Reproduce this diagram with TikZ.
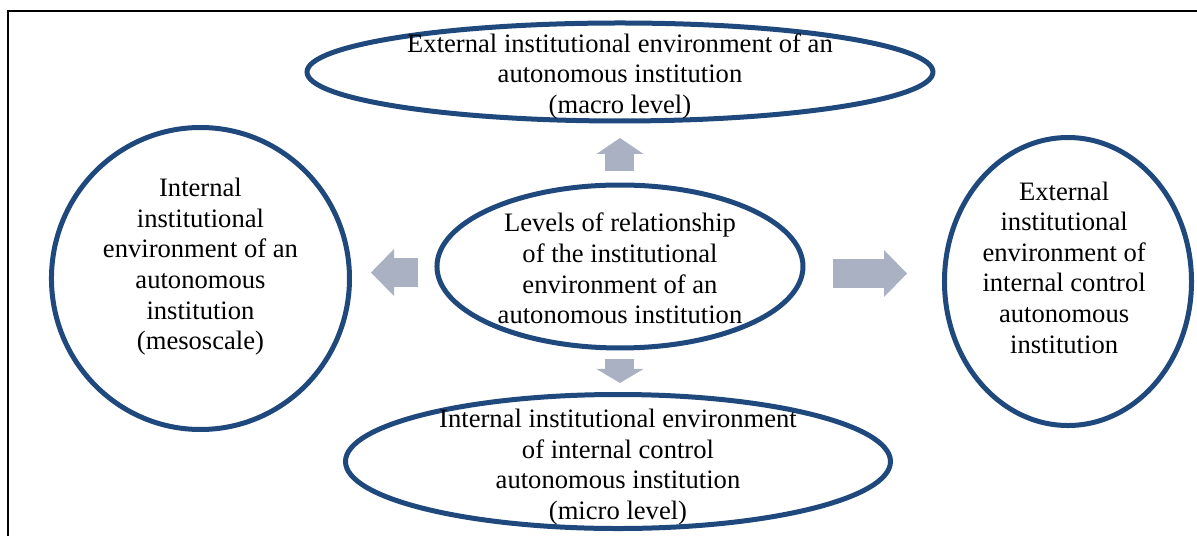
\documentclass[tikz,border=0pt]{standalone}
\usepackage{fontspec}
\setmainfont{Liberation Serif}
\usetikzlibrary{shapes.geometric,arrows.meta}
\definecolor{ringblue}{HTML}{1F497D}
\definecolor{arrowgrey}{RGB}{169,177,194}
\newcommand{\lvlsiz}{\fontsize{13.3}{15.3}\selectfont}
\tikzset{
    ring/.style={ellipse, draw=ringblue, line width=2.5pt, inner sep=0pt},
    lvltext/.style={align=center, font=\lvlsiz, inner sep=0pt},
    blockarrow/.style={draw=arrowgrey, line width=14.5pt,
        -{Triangle[length=#1, width=23.5pt, line width=0pt]}},
}

\begin{document}
\begin{tikzpicture}
    \useasboundingbox (0,0) rectangle (21.035,9.419);

    % frame of the figure
    \draw[line width=1pt] (0.141,0) -- (0.141,9.226) -- (21.035,9.226);

    % levels
    \node[ring, minimum width=11.0cm, minimum height=1.722cm] (macro) at (10.895,8.154) {};
    \node[lvltext] (macro-txt) at (10.895,8.08) {External institutional environment of an\\ autonomous institution\\ (macro level)};

    \node[ring, minimum width=6.432cm, minimum height=2.864cm] (mid) at (10.895,4.736) {};
    \node[lvltext] (mid-txt) at (10.895,4.70) {Levels of relationship\\ of the institutional\\ environment of an\\ autonomous institution};

    \node[ring, minimum width=5.237cm, minimum height=5.307cm] (meso) at (3.523,4.525) {};
    \node[lvltext] (meso-txt) at (3.523,4.73) {Internal\\ institutional\\ environment of an\\ autonomous\\ institution\\ (mesoscale)};

    \node[ring, minimum width=4.341cm, minimum height=5.061cm] (extctl) at (18.768,4.472) {};
    \node[lvltext] (extctl-txt) at (18.70,4.72) {External\\ institutional\\ environment of\\ internal control\\ autonomous\\ institution};

    \node[ring, minimum width=9.577cm, minimum height=2.355cm] (micro) at (10.86,1.309) {};
    \node[lvltext] (micro-txt) at (10.86,1.21) {Internal institutional environment\\ of internal control\\ autonomous institution\\ (micro level)};

    % arrows out of the centre
    \coordinate (up-s) at (10.895,6.414);
    \coordinate (up-e) at (10.895,6.994);
    \draw[blockarrow=8pt] (up-s) -- (up-e);

    \coordinate (dn-s) at (10.895,3.110);
    \coordinate (dn-e) at (10.895,2.689);
    \draw[blockarrow=7pt] (dn-s) -- (dn-e);

    \coordinate (lt-s) at (7.345,4.630);
    \coordinate (lt-e) at (6.520,4.630);
    \draw[blockarrow=11.5pt] (lt-s) -- (lt-e);

    \coordinate (rt-s) at (14.638,4.613);
    \coordinate (rt-e) at (15.939,4.613);
    \draw[blockarrow=11.5pt] (rt-s) -- (rt-e);

\end{tikzpicture}
\end{document}
